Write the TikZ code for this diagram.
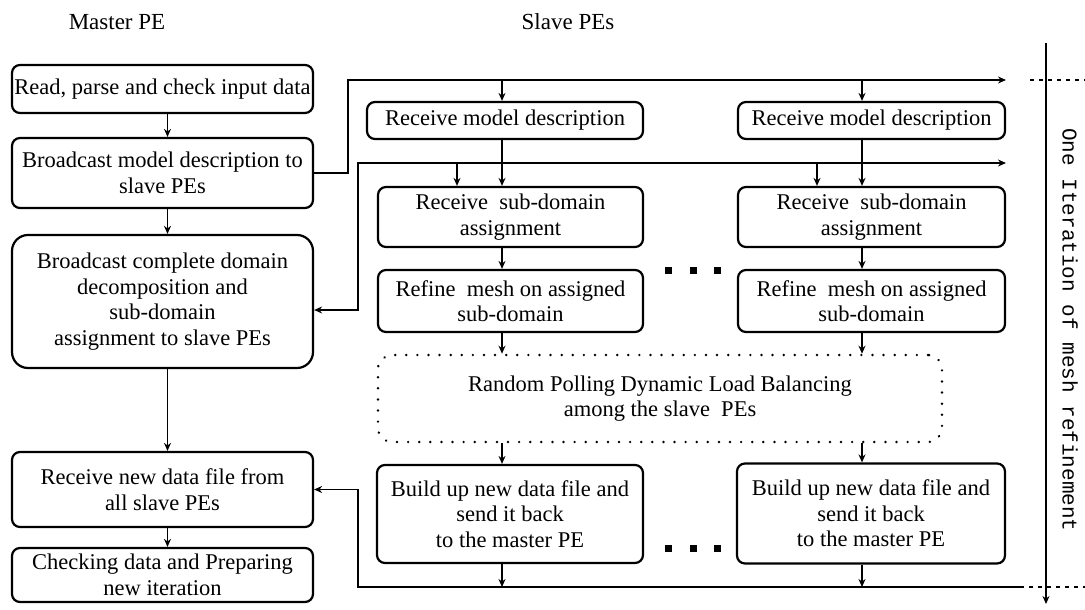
\documentclass[tikz,border=0pt]{standalone}
\usepackage{fontspec}
\setmainfont{Liberation Serif}
\newfontfamily\monofam{Liberation Mono}
\usetikzlibrary{arrows.meta}

\begin{document}
\begin{tikzpicture}[x=1pt,y=-1pt,
  txt/.style={font=\fontsize{22.5}{25.5}\selectfont},
  box/.style={txt, draw, line width=2.2pt, rounded corners=8pt, align=center,
    inner sep=1pt},
  pollbox/.style={txt, draw, line width=2.6pt, line cap=round,
    dash pattern=on 0.1pt off 11pt, rounded corners=14pt, align=center, inner sep=2pt},
  conn/.style={line width=1.6pt},
  arr/.style={conn, -{Stealth[length=8pt,width=7pt]}},
  dotsq/.style={fill=black, minimum size=7pt, inner sep=0pt},
  head/.style={font=\fontsize{23}{26}\selectfont}
]
\useasboundingbox (0,0) rectangle (1085,610);

% column headings
\node[head] (hm) at (117,22) {Master PE};
\node[head] (hs) at (568,22) {Slave PEs};

% master PE column
\node[box, minimum width=301pt, minimum height=48pt] (m1) at (162.5,89)
  {Read, parse and check input data};
\node[box, minimum width=301pt, minimum height=70pt] (m2) at (162.5,173)
  {Broadcast model description to\\slave PEs};
\node[box, rounded corners=16pt, minimum width=301pt, minimum height=133pt] (m3) at (162.5,301.5)
  {Broadcast complete domain\\decomposition and\\sub-domain\\assignment to slave PEs};
\node[box, minimum width=301pt, minimum height=75pt] (m4) at (162.5,489.5)
  {Receive new data file from\\all slave PEs};
\node[box, minimum width=301pt, minimum height=54pt] (m5) at (162.5,575)
  {Checking data and Preparing\\new iteration};

% slave PE columns
\node[box, minimum width=276pt, minimum height=37pt] (a1) at (505,120.5)
  {Receive model description};
\node[box, minimum width=265pt, minimum height=60pt] (b1) at (510.5,217)
  {Receive\ \ sub-domain\\assignment};
\node[box, minimum width=265pt, minimum height=62pt] (c1) at (510.5,301)
  {Refine\ \ mesh on assigned\\sub-domain};
\node[box, minimum width=266pt, minimum height=98pt] (e1) at (510,514)
  {Build up new data file and\\send it back\\to the master PE};

\node[box, minimum width=267pt, minimum height=37pt] (a2) at (871.5,120.5)
  {Receive model description};
\node[box, minimum width=267pt, minimum height=60pt] (b2) at (871.5,217)
  {Receive\ \ sub-domain\\assignment};
\node[box, minimum width=267pt, minimum height=62pt] (c2) at (871.5,301)
  {Refine\ \ mesh on assigned\\sub-domain};
\node[box, minimum width=268pt, minimum height=100pt] (e2) at (871,513.5)
  {Build up new data file and\\send it back\\to the master PE};

\node[pollbox, minimum width=564pt, minimum height=87pt] (lb) at (660,398.5)
  {Random Polling Dynamic Load Balancing\\among the slave\ \ PEs};

% ellipsis squares between the slave columns
\foreach \i/\xx in {1/668,2/693,3/717} {
  \node[dotsq] (dt\i) at (\xx,270) {};
  \node[dotsq] (db\i) at (\xx,548) {};
}

% spine positions and bus coordinates
\coordinate (s1) at (502,0);
\coordinate (s2) at (862,0);
\coordinate (t1) at (457,0);
\coordinate (t2) at (817,0);
\coordinate (bus1w) at (348,80);
\coordinate (bus1e) at (1006,80);
\coordinate (bus2w) at (358,163);
\coordinate (bus2e) at (1006,163);
\coordinate (bus3w) at (358,587);
\coordinate (bus3e) at (1020,587);

% master flow
\draw[arr] ([xshift=5pt]m1.south) -- ([xshift=5pt]m2.north);
\draw[arr] ([xshift=5pt]m2.south) -- ([xshift=5pt]m3.north);
\draw[arr] ([xshift=5pt]m3.south) -- ([xshift=5pt]m4.north);
\draw[arr] ([xshift=5pt]m4.south) -- ([xshift=5pt]m5.north);

% model description broadcast
\draw[arr] (m2.east) -| (bus1w) -- (bus1e);
\draw[arr] (s1 |- bus1w) -- (a1.north -| s1);
\draw[arr] (s2 |- bus1w) -- (a2.north -| s2);

% sub-domain assignment broadcast
\draw[conn, {Stealth[length=8pt,width=7pt]}-{Stealth[length=8pt,width=7pt]}]
  ([yshift=-8.5pt]m3.east) -| (bus2w) -- (bus2e);
\draw[arr] (t1 |- bus2w) -- (b1.north -| t1);
\draw[arr] (t2 |- bus2w) -- (b2.north -| t2);

% slave flows
\draw[arr] (a1.south -| s1) -- (b1.north -| s1);
\draw[arr] (b1.south -| s1) -- (c1.north -| s1);
\draw[arr] (c1.south -| s1) -- (lb.north -| s1);
\draw[arr] (lb.south -| s1) -- (e1.north -| s1);
\draw[arr] (a2.south -| s2) -- (b2.north -| s2);
\draw[arr] (b2.south -| s2) -- (c2.north -| s2);
\draw[arr] (c2.south -| s2) -- (lb.north -| s2);
\draw[arr] (lb.south -| s2) -- (e2.north -| s2);

% data files returned to the master
\draw[arr] (e1.south -| s1) -- (bus3w -| s1);
\draw[arr] (e2.south -| s2) -- (bus3w -| s2);
\draw[arr] (bus3e) -- (bus3w) |- (m4.east);

% iteration marker
\coordinate (vt) at (1046,43);
\coordinate (vb) at (1046,604);
\coordinate (dt) at (1030,80);
\coordinate (dte) at (1085,80);
\coordinate (dbe) at (1085,587);
\draw[arr] (vt) -- (vb);
\draw[conn, dash pattern=on 4pt off 5pt] (dt) -- (dte);
\draw[conn, dash pattern=on 4pt off 5pt] (bus3e) -- (dbe);
\node[font=\monofam\fontsize{21}{25}\selectfont, rotate=-90] (it) at (1070,330)
  {One Iteration of mesh refinement};

\end{tikzpicture}
\end{document}
